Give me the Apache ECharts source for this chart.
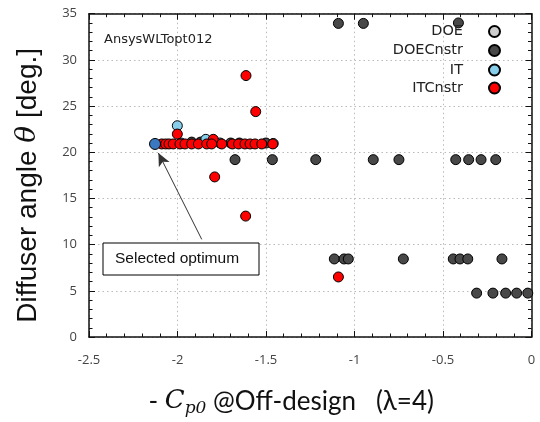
<!DOCTYPE html>
<html>
<head>
<meta charset="utf-8">
<script src="https://cdn.jsdelivr.net/npm/echarts@6/dist/echarts.min.js"></script>
<style>html,body{margin:0;padding:0;background:#fff;}#c{width:540px;height:422px;}</style>
</head>
<body>
<div id="c"></div>
<script>
// ---- data ----
const xTicks = [-2.5, -2, -1.5, -1, -0.5, 0];
const yTicks = [0, 5, 10, 15, 20, 25, 30, 35];
const seriesNames = ['DOE', 'DOECnstr', 'IT', 'ITCnstr'];

const doe = [];
const doeCnstr = [
  [-1.091, 33.95], [-0.950, 33.95], [-0.413, 34.0],
  [-1.675, 19.2], [-1.464, 19.2], [-1.219, 19.2], [-0.894, 19.2], [-0.749, 19.2],
  [-0.428, 19.2], [-0.355, 19.2], [-0.285, 19.2], [-0.202, 19.2],
  [-1.114, 8.45], [-1.059, 8.45], [-1.035, 8.45], [-0.724, 8.45],
  [-0.442, 8.45], [-0.404, 8.45], [-0.360, 8.45], [-0.167, 8.45],
  [-0.310, 4.75], [-0.218, 4.75], [-0.146, 4.75], [-0.084, 4.75], [-0.021, 4.75],
  [-1.92, 21.1], [-1.87, 21.1], [-1.80, 21.1], [-1.70, 21.0], [-1.65, 21.0], [-1.50, 21.0]
];
const it = [
  [-2.001, 22.87], [-1.84, 21.4], [-1.459, 20.95], [-1.98, 21.0], [-1.76, 21.0]
];
const itCnstr = [
  [-1.613, 28.3], [-1.558, 24.4], [-2.001, 21.97], [-1.798, 21.4],
  [-1.790, 17.33], [-1.615, 13.09], [-1.091, 6.5],
  [-2.089, 20.9], [-2.067, 20.9], [-2.048, 20.9], [-2.024, 20.9], [-1.986, 20.9],
  [-1.958, 20.9], [-1.920, 20.9], [-1.882, 20.9], [-1.835, 20.9], [-1.807, 20.9],
  [-1.750, 20.9], [-1.690, 20.9], [-1.655, 20.9], [-1.619, 20.9], [-1.590, 20.9],
  [-1.562, 20.9], [-1.524, 20.9], [-1.462, 20.9]
];
const optimum = [[-2.127, 20.9]];
const arrowFrom = [-1.863, 10.57];
const arrowTo = [-2.108, 19.92];

// ---- chart ----
const chart = echarts.init(document.getElementById('c'), null, {renderer: 'canvas'});
const tickFont = {color: '#444', fontSize: 13, fontFamily: 'Open Sans'};
const mk = (name, data, color, z) => ({
  name, type: 'scatter', data, symbolSize: 10, z,
  itemStyle: {color, borderColor: '#000', borderWidth: 1, opacity: 1},
  emphasis: {disabled: true}
});
const legendTop = [19, 38, 57.5, 75.5];
const axisCommon = {
  axisLine: {show: true, onZero: false, lineStyle: {color: '#111', width: 1.5}},
  axisTick: {show: true, inside: true, length: 6, lineStyle: {color: '#111', width: 1}},
  minorTick: {show: true, splitNumber: 5, length: 3.5, lineStyle: {color: '#111', width: 1}}
};
const option = {
  animation: false,
  backgroundColor: '#fff',
  grid: {left: 89, right: 8.5, top: 13.7, bottom: 84, containLabel: false},
  xAxis: [Object.assign({
    type: 'value', min: -2.5, max: 0, interval: 0.5,
    name: '- {c|C}{s|p0} @Off-design   (λ=4)',
    nameLocation: 'middle', nameGap: 49,
    nameTextStyle: {fontSize: 26, fontFamily: 'Lato', color: '#111', padding: [0, 38, 0, 0],
      rich: {
        c: {fontSize: 26, fontStyle: 'italic', fontFamily: 'DejaVu Serif', color: '#111'},
        s: {fontSize: 17, fontStyle: 'italic', fontFamily: 'DejaVu Serif', color: '#111', padding: [14, 0, 0, 0]}
      }},
    axisLabel: Object.assign({margin: 17, formatter: v => String(v)}, tickFont),
    splitLine: {show: true, lineStyle: {color: '#bbb', type: [1.5, 3], width: 1}}
  }, axisCommon), Object.assign({
    type: 'value', min: -2.5, max: 0, interval: 0.5, position: 'top',
    axisLabel: {show: false}, splitLine: {show: false}
  }, axisCommon)],
  yAxis: [Object.assign({
    type: 'value', min: 0, max: 35, interval: 5,
    name: 'Diffuser angle {t|θ} [deg.]',
    nameLocation: 'middle', nameGap: 47,
    nameTextStyle: {fontSize: 28, fontFamily: 'Liberation Sans', color: '#111', padding: [0, 20, 0, 0],
      rich: {t: {fontSize: 28, fontStyle: 'italic', fontFamily: 'DejaVu Serif', color: '#111'}}},
    axisLabel: Object.assign({margin: 12}, tickFont),
    splitLine: {show: true, lineStyle: {color: '#bbb', type: [1.5, 3], width: 1}}
  }, axisCommon), Object.assign({
    type: 'value', min: 0, max: 35, interval: 5, position: 'right',
    axisLabel: {show: false}, splitLine: {show: false}
  }, axisCommon)],
  legend: seriesNames.map((n, i) => ({
    data: [n], orient: 'vertical', align: 'right', right: 34, top: legendTop[i],
    icon: 'circle', itemWidth: 11, itemHeight: 11, selectedMode: false,
    textStyle: {fontSize: 14.5, fontFamily: 'DejaVu Sans', color: '#222', padding: [0, 21, 0, 0]}
  })),
  graphic: [
    {type: 'text', left: 104, top: 33, z: 10,
      style: {text: 'AnsysWLTopt012', fontSize: 13, fontFamily: 'DejaVu Sans', fill: '#222'}},
    {type: 'rect', shape: {x: 103, y: 243, width: 156, height: 32}, z: 10,
      style: {fill: '#fff', stroke: '#000', lineWidth: 1}},
    {type: 'text', x: 115, y: 259, z: 11,
      style: {text: 'Selected optimum', fontSize: 15.5, fontFamily: 'Liberation Sans', fill: '#111', verticalAlign: 'middle'}}
  ],
  series: [
    mk('DOE', doe, '#cccccc', 2),
    mk('DOECnstr', doeCnstr, '#484848', 3),
    mk('IT', it, '#87ceeb', 4),
    mk('ITCnstr', itCnstr, '#ff0000', 5),
    Object.assign(mk('Optimum', optimum, '#3a78c0', 6), {
      symbolSize: 11,
      markLine: {
        silent: true, symbol: ['none', 'arrow'], symbolSize: [9, 13],
        lineStyle: {color: '#333', width: 1, type: 'solid'},
        label: {show: false},
        data: [[{coord: arrowFrom}, {coord: arrowTo}]]
      }
    })
  ]
};
chart.setOption(option);
</script>
</body>
</html>
